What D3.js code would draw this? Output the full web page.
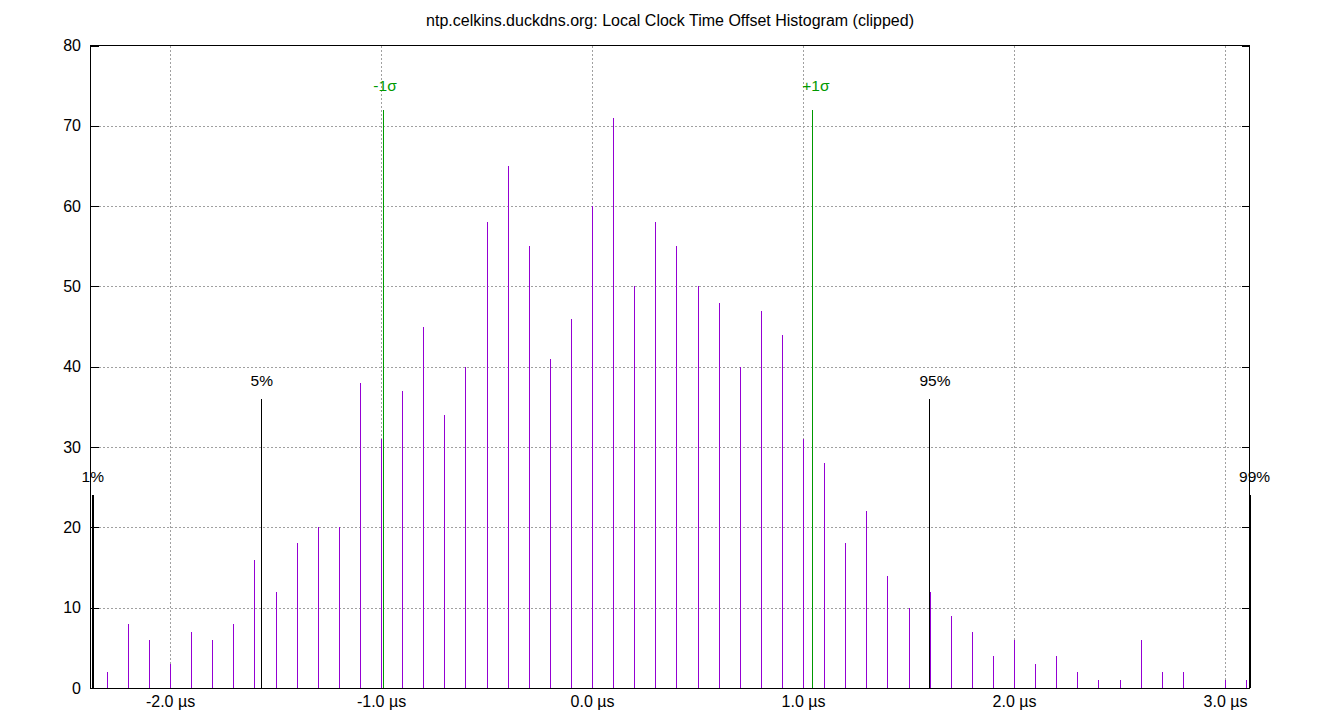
<!DOCTYPE html>
<html>
<head>
<meta charset="utf-8">
<script src="https://cdn.jsdelivr.net/npm/d3@7/dist/d3.min.js"></script>
<style>
  html, body { margin: 0; padding: 0; background: #fff; }
  svg { display: block; font-family: "Liberation Sans", Arial, sans-serif; }
</style>
</head>
<body>
<svg id="chart" width="1340" height="720"></svg>
<script>
// ---- data ----
const title = "ntp.celkins.duckdns.org: Local Clock Time Offset Histogram (clipped)";
const offsets = [-2.3,-2.2,-2.1,-2.0,-1.9,-1.8,-1.7,-1.6,-1.5,-1.4,-1.3,-1.2,-1.1,-1.0,-0.9,-0.8,-0.7,-0.6,-0.5,-0.4,-0.3,-0.2,-0.1,0.0,0.1,0.2,0.3,0.4,0.5,0.6,0.7,0.8,0.9,1.0,1.1,1.2,1.3,1.4,1.5,1.6,1.7,1.8,1.9,2.0,2.1,2.2,2.3,2.4,2.5,2.6,2.7,2.8,2.9,3.0,3.1];
const counts  = [2,8,6,3,7,6,8,16,12,18,20,20,38,31,37,45,34,40,58,65,55,41,46,60,71,50,58,55,50,48,40,47,44,31,28,18,22,14,10,12,9,7,4,6,3,4,2,1,1,6,2,2,0,1,1];
const markerLabels = ["1%", "5%", "-1σ", "+1σ", "95%", "99%"];
const markerX      = [-2.372, -1.571, -0.989, 1.044, 1.599, 3.114];
const markerHeight = [24, 36, 72, 72, 36, 24];
const markerKind   = ["pct", "pct", "sigma", "sigma", "pct", "pct"];
const xTicks = [-2, -1, 0, 1, 2, 3];
const yTicks = [0, 10, 20, 30, 40, 50, 60, 70, 80];
const xDomain = [-2.377, 3.116];
const yDomain = [0, 80];

// ---- layout / style ----
const M = { left: 90.5, right: 1249.5, top: 45.5, bottom: 688 };
const purple = "#9400d3", green = "#009900", gridColor = "#a0a0a0";
const fontSize = 16, labelFontSize = 15.5;

const svg = d3.select("#chart");
const x = d3.scaleLinear().domain(xDomain).range([M.left, M.right]);
const y = d3.scaleLinear().domain(yDomain).range([M.bottom, M.top]);

// grid
const grid = svg.append("g").attr("stroke", gridColor).attr("stroke-width", 1)
  .attr("stroke-dasharray", "2,2").attr("shape-rendering", "crispEdges");
grid.selectAll("line.gx").data(xTicks).join("line").attr("class", "gx")
  .attr("x1", d => Math.round(x(d)) + 0.5).attr("x2", d => Math.round(x(d)) + 0.5)
  .attr("y1", M.top).attr("y2", M.bottom);
grid.selectAll("line.gy").data(yTicks.filter(d => d > 0 && d < 80)).join("line").attr("class", "gy")
  .attr("x1", M.left).attr("x2", M.right)
  .attr("y1", d => Math.round(y(d)) + 0.5).attr("y2", d => Math.round(y(d)) + 0.5);

// y axis left (inward ticks)
const yAxisL = d3.axisLeft(y).tickValues(yTicks).tickSize(-8).tickPadding(9.5).tickFormat(d3.format("d"));
const gL = svg.append("g").attr("transform", `translate(${M.left},0)`).call(yAxisL);
// y axis right (inward ticks, no labels)
const yAxisR = d3.axisRight(y).tickValues(yTicks).tickSize(-8).tickFormat("");
const gR = svg.append("g").attr("transform", `translate(${M.right},0)`).call(yAxisR);
// x axis
const xAxis = d3.axisBottom(x).tickValues(xTicks).tickSize(0).tickPadding(7.5)
  .tickFormat(d => d.toFixed(1) + " µs");
const gX = svg.append("g").attr("transform", `translate(0,${M.bottom})`).call(xAxis);

[gL, gR, gX].forEach(g => {
  g.select(".domain").remove();
  g.selectAll("line").attr("stroke", "#000").attr("shape-rendering", "crispEdges");
  g.selectAll("text").attr("font-size", fontSize).attr("fill", "#000")
    .attr("font-family", "Liberation Sans, Arial, sans-serif");
});

// bars (impulses)
svg.append("g").selectAll("line").data(offsets.map((o, i) => ({o, c: counts[i]})).filter(d => d.c > 0))
  .join("line")
  .attr("x1", d => Math.round(x(d.o)) + 0.5).attr("x2", d => Math.round(x(d.o)) + 0.5)
  .attr("y1", y(0)).attr("y2", d => y(d.c))
  .attr("stroke", purple).attr("stroke-width", 1).attr("shape-rendering", "crispEdges");

// markers
const markers = markerLabels.map((l, i) => ({l, x: markerX[i], h: markerHeight[i], k: markerKind[i]}));
const mg = svg.append("g");
mg.selectAll("line").data(markers).join("line")
  .attr("x1", d => Math.round(x(d.x)) + 0.5).attr("x2", d => Math.round(x(d.x)) + 0.5)
  .attr("y1", y(0)).attr("y2", d => y(d.h))
  .attr("stroke", d => d.k === "sigma" ? green : "#000")
  .attr("stroke-width", d => (d.l === "1%" || d.l === "99%") ? 2 : 1)
  .attr("shape-rendering", "crispEdges");
mg.selectAll("text").data(markers).join("text")
  .attr("x", d => x(d.x) - 10)
  .attr("y", d => y(d.h) - (d.k === "sigma" ? 19 : 13))
  .attr("font-size", labelFontSize)
  .attr("fill", d => d.k === "sigma" ? green : "#000")
  .text(d => d.l);

// border
svg.append("rect").attr("x", M.left).attr("y", M.top)
  .attr("width", M.right - M.left).attr("height", M.bottom - M.top)
  .attr("fill", "none").attr("stroke", "#000").attr("stroke-width", 1)
  .attr("shape-rendering", "crispEdges");

// title
svg.append("text").attr("x", (M.left + M.right) / 2).attr("y", 26)
  .attr("text-anchor", "middle").attr("font-size", fontSize).attr("fill", "#000")
  .text(title);
</script>
</body>
</html>
